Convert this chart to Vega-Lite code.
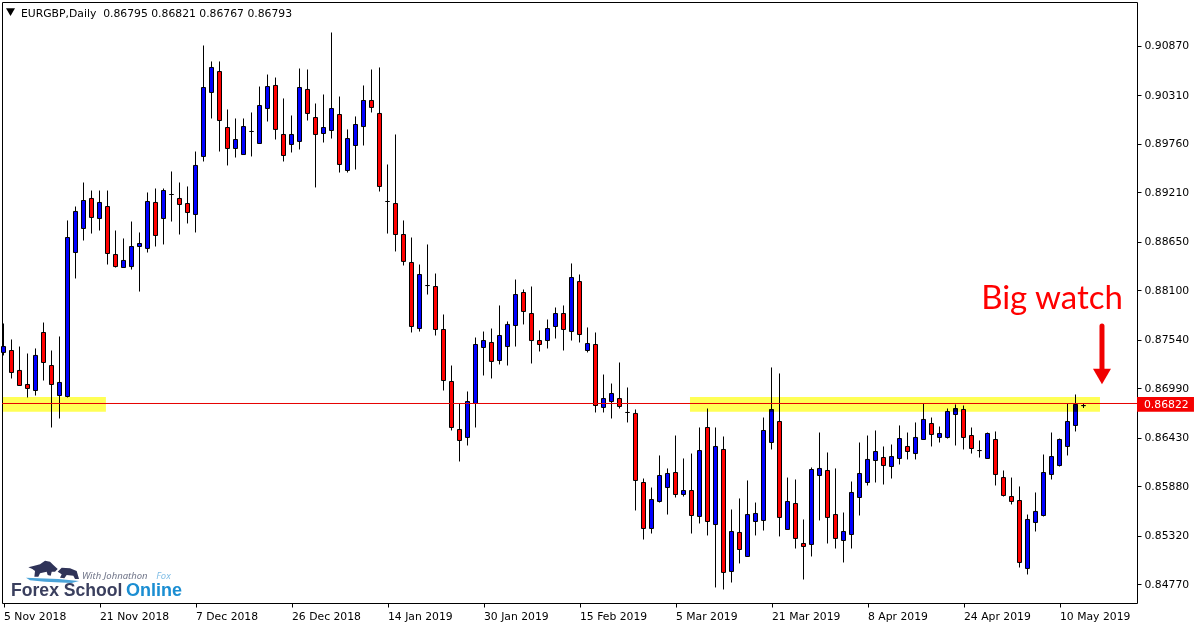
{
"$schema":"https://vega.github.io/schema/vega-lite/v6.json",
"width":1135,"height":601,
"autosize":{"type":"none"},
"padding":{"left":2,"top":2,"right":63,"bottom":24},
"background":"#ffffff",
"view":{"stroke":"#000000","strokeWidth":1,"fill":"#ffffff"},
"config":{"font":"DejaVu Sans"},
"resolve":{"axis":{"x":"independent","y":"independent"}},
"datasets":{"candles":[
{"i":0,"open":0.87396,"high":0.87724,"low":0.87362,"close":0.87463},
{"i":1,"open":0.87418,"high":0.87543,"low":0.87101,"close":0.87169},
{"i":2,"open":0.87192,"high":0.87463,"low":0.87022,"close":0.87022},
{"i":3,"open":0.87033,"high":0.87384,"low":0.86886,"close":0.86988},
{"i":4,"open":0.86965,"high":0.87441,"low":0.86908,"close":0.87362},
{"i":5,"open":0.87622,"high":0.87735,"low":0.87078,"close":0.87282},
{"i":6,"open":0.87248,"high":0.87418,"low":0.86546,"close":0.87033},
{"i":7,"open":0.86908,"high":0.87577,"low":0.86648,"close":0.87056},
{"i":8,"open":0.86897,"high":0.88891,"low":0.86886,"close":0.88698},
{"i":9,"open":0.88528,"high":0.89049,"low":0.88234,"close":0.88993},
{"i":10,"open":0.88800,"high":0.89321,"low":0.88664,"close":0.89117},
{"i":11,"open":0.89140,"high":0.89230,"low":0.88743,"close":0.88925},
{"i":12,"open":0.88913,"high":0.89230,"low":0.88777,"close":0.89095},
{"i":13,"open":0.89049,"high":0.89230,"low":0.88392,"close":0.88517},
{"i":14,"open":0.88505,"high":0.88777,"low":0.88358,"close":0.88369},
{"i":15,"open":0.88358,"high":0.88687,"low":0.88358,"close":0.88438},
{"i":16,"open":0.88369,"high":0.88879,"low":0.88335,"close":0.88596},
{"i":17,"open":0.88596,"high":0.88755,"low":0.88086,"close":0.88630},
{"i":18,"open":0.88574,"high":0.89208,"low":0.88528,"close":0.89106},
{"i":19,"open":0.89095,"high":0.89253,"low":0.88596,"close":0.88721},
{"i":20,"open":0.88913,"high":0.89253,"low":0.88619,"close":0.89230},
{"i":21,"open":0.89185,"high":0.89446,"low":0.88879,"close":0.89185},
{"i":22,"open":0.89140,"high":0.89321,"low":0.88732,"close":0.89072},
{"i":23,"open":0.89083,"high":0.89276,"low":0.88857,"close":0.88981},
{"i":24,"open":0.88959,"high":0.89672,"low":0.88755,"close":0.89514},
{"i":25,"open":0.89616,"high":0.90873,"low":0.89559,"close":0.90397},
{"i":26,"open":0.90341,"high":0.90692,"low":0.90046,"close":0.90624},
{"i":27,"open":0.90578,"high":0.90692,"low":0.89672,"close":0.90023},
{"i":28,"open":0.89944,"high":0.90148,"low":0.89514,"close":0.89706},
{"i":29,"open":0.89706,"high":0.90046,"low":0.89604,"close":0.89808},
{"i":30,"open":0.89638,"high":0.90046,"low":0.89638,"close":0.89955},
{"i":31,"open":0.89899,"high":0.90114,"low":0.89616,"close":0.89899},
{"i":32,"open":0.89763,"high":0.90408,"low":0.89763,"close":0.90193},
{"i":33,"open":0.90159,"high":0.90544,"low":0.90012,"close":0.90408},
{"i":34,"open":0.90420,"high":0.90510,"low":0.89808,"close":0.89922},
{"i":35,"open":0.89865,"high":0.90273,"low":0.89559,"close":0.89627},
{"i":36,"open":0.89752,"high":0.90080,"low":0.89661,"close":0.89865},
{"i":37,"open":0.89786,"high":0.90612,"low":0.89695,"close":0.90397},
{"i":38,"open":0.90375,"high":0.90601,"low":0.90023,"close":0.90103},
{"i":39,"open":0.90057,"high":0.90216,"low":0.89265,"close":0.89865},
{"i":40,"open":0.89876,"high":0.90318,"low":0.89774,"close":0.89944},
{"i":41,"open":0.89910,"high":0.91020,"low":0.89819,"close":0.90159},
{"i":42,"open":0.90091,"high":0.90295,"low":0.89434,"close":0.89525},
{"i":43,"open":0.89457,"high":0.89922,"low":0.89434,"close":0.89819},
{"i":44,"open":0.89740,"high":0.90069,"low":0.89468,"close":0.89978},
{"i":45,"open":0.89955,"high":0.90420,"low":0.89740,"close":0.90250},
{"i":46,"open":0.90250,"high":0.90601,"low":0.90114,"close":0.90171},
{"i":47,"open":0.90103,"high":0.90624,"low":0.89219,"close":0.89276},
{"i":48,"open":0.89106,"high":0.89525,"low":0.88743,"close":0.89106},
{"i":49,"open":0.89083,"high":0.89865,"low":0.88540,"close":0.88732},
{"i":50,"open":0.88732,"high":0.88891,"low":0.88381,"close":0.88427},
{"i":51,"open":0.88415,"high":0.88698,"low":0.87622,"close":0.87690},
{"i":52,"open":0.87667,"high":0.88392,"low":0.87633,"close":0.88279},
{"i":53,"open":0.88154,"high":0.88619,"low":0.88052,"close":0.88154},
{"i":54,"open":0.88143,"high":0.88290,"low":0.87588,"close":0.87656},
{"i":55,"open":0.87656,"high":0.87826,"low":0.86965,"close":0.87078},
{"i":56,"open":0.87067,"high":0.87248,"low":0.86512,"close":0.86546},
{"i":57,"open":0.86523,"high":0.86818,"low":0.86161,"close":0.86399},
{"i":58,"open":0.86433,"high":0.86954,"low":0.86342,"close":0.86840},
{"i":59,"open":0.86818,"high":0.87565,"low":0.86546,"close":0.87486},
{"i":60,"open":0.87452,"high":0.87633,"low":0.87135,"close":0.87531},
{"i":61,"open":0.87509,"high":0.87667,"low":0.87101,"close":0.87294},
{"i":62,"open":0.87305,"high":0.87928,"low":0.87260,"close":0.87588},
{"i":63,"open":0.87463,"high":0.87747,"low":0.87248,"close":0.87713},
{"i":64,"open":0.87701,"high":0.88222,"low":0.87463,"close":0.88052},
{"i":65,"open":0.88075,"high":0.88109,"low":0.87713,"close":0.87860},
{"i":66,"open":0.87837,"high":0.88143,"low":0.87271,"close":0.87531},
{"i":67,"open":0.87531,"high":0.87645,"low":0.87407,"close":0.87486},
{"i":68,"open":0.87531,"high":0.87769,"low":0.87441,"close":0.87667},
{"i":69,"open":0.87690,"high":0.87905,"low":0.87554,"close":0.87837},
{"i":70,"open":0.87837,"high":0.87928,"low":0.87418,"close":0.87656},
{"i":71,"open":0.87633,"high":0.88404,"low":0.87531,"close":0.88245},
{"i":72,"open":0.88199,"high":0.88279,"low":0.87509,"close":0.87599},
{"i":73,"open":0.87418,"high":0.87679,"low":0.87396,"close":0.87497},
{"i":74,"open":0.87486,"high":0.87622,"low":0.86716,"close":0.86795},
{"i":75,"open":0.86773,"high":0.87146,"low":0.86716,"close":0.86874},
{"i":76,"open":0.86840,"high":0.87044,"low":0.86648,"close":0.86931},
{"i":77,"open":0.86874,"high":0.87282,"low":0.86761,"close":0.86784},
{"i":78,"open":0.86716,"high":0.86999,"low":0.86603,"close":0.86716},
{"i":79,"open":0.86705,"high":0.86750,"low":0.85606,"close":0.85946},
{"i":80,"open":0.85923,"high":0.85968,"low":0.85277,"close":0.85402},
{"i":81,"open":0.85402,"high":0.85866,"low":0.85345,"close":0.85730},
{"i":82,"open":0.85708,"high":0.86229,"low":0.85696,"close":0.86002},
{"i":83,"open":0.85866,"high":0.86082,"low":0.85560,"close":0.86025},
{"i":84,"open":0.86036,"high":0.86455,"low":0.85753,"close":0.85787},
{"i":85,"open":0.85787,"high":0.86195,"low":0.85764,"close":0.85832},
{"i":86,"open":0.85832,"high":0.86251,"low":0.85345,"close":0.85549},
{"i":87,"open":0.85538,"high":0.86546,"low":0.85459,"close":0.86285},
{"i":88,"open":0.86546,"high":0.86761,"low":0.85323,"close":0.85481},
{"i":89,"open":0.85447,"high":0.86546,"low":0.84734,"close":0.86331},
{"i":90,"open":0.86297,"high":0.86444,"low":0.84711,"close":0.84904},
{"i":91,"open":0.84915,"high":0.85617,"low":0.84790,"close":0.85368},
{"i":92,"open":0.85357,"high":0.85742,"low":0.85006,"close":0.85164},
{"i":93,"open":0.85085,"high":0.85946,"low":0.85085,"close":0.85560},
{"i":94,"open":0.85481,"high":0.85696,"low":0.85323,"close":0.85572},
{"i":95,"open":0.85493,"high":0.86659,"low":0.85379,"close":0.86512},
{"i":96,"open":0.86376,"high":0.87226,"low":0.86297,"close":0.86750},
{"i":97,"open":0.86614,"high":0.87158,"low":0.85312,"close":0.85527},
{"i":98,"open":0.85391,"high":0.85979,"low":0.85391,"close":0.85708},
{"i":99,"open":0.85685,"high":0.85957,"low":0.85175,"close":0.85289},
{"i":100,"open":0.85232,"high":0.85504,"low":0.84824,"close":0.85198},
{"i":101,"open":0.85221,"high":0.86093,"low":0.85085,"close":0.86070},
{"i":102,"open":0.86002,"high":0.86489,"low":0.85493,"close":0.86082},
{"i":103,"open":0.86059,"high":0.86263,"low":0.85232,"close":0.85527},
{"i":104,"open":0.85560,"high":0.86082,"low":0.85175,"close":0.85289},
{"i":105,"open":0.85266,"high":0.85583,"low":0.85017,"close":0.85368},
{"i":106,"open":0.85334,"high":0.85934,"low":0.85175,"close":0.85810},
{"i":107,"open":0.85753,"high":0.86376,"low":0.85549,"close":0.86025},
{"i":108,"open":0.85923,"high":0.86455,"low":0.85889,"close":0.86184},
{"i":109,"open":0.86172,"high":0.86512,"low":0.85923,"close":0.86274},
{"i":110,"open":0.86206,"high":0.86331,"low":0.85900,"close":0.86115},
{"i":111,"open":0.86104,"high":0.86353,"low":0.85968,"close":0.86217},
{"i":112,"open":0.86195,"high":0.86569,"low":0.86127,"close":0.86421},
{"i":113,"open":0.86331,"high":0.86489,"low":0.86184,"close":0.86274},
{"i":114,"open":0.86251,"high":0.86603,"low":0.86184,"close":0.86433},
{"i":115,"open":0.86410,"high":0.86818,"low":0.86410,"close":0.86637},
{"i":116,"open":0.86591,"high":0.86659,"low":0.86331,"close":0.86467},
{"i":117,"open":0.86433,"high":0.86557,"low":0.86376,"close":0.86478},
{"i":118,"open":0.86433,"high":0.86761,"low":0.86421,"close":0.86727},
{"i":119,"open":0.86693,"high":0.86807,"low":0.86342,"close":0.86761},
{"i":120,"open":0.86750,"high":0.86795,"low":0.86297,"close":0.86433},
{"i":121,"open":0.86455,"high":0.86546,"low":0.86251,"close":0.86308},
{"i":122,"open":0.86285,"high":0.86399,"low":0.86206,"close":0.86285},
{"i":123,"open":0.86195,"high":0.86489,"low":0.86195,"close":0.86478},
{"i":124,"open":0.86410,"high":0.86501,"low":0.85889,"close":0.86014},
{"i":125,"open":0.85979,"high":0.86059,"low":0.85764,"close":0.85776},
{"i":126,"open":0.85764,"high":0.85979,"low":0.85674,"close":0.85708},
{"i":127,"open":0.85719,"high":0.85878,"low":0.84960,"close":0.85017},
{"i":128,"open":0.84949,"high":0.85560,"low":0.84881,"close":0.85504},
{"i":129,"open":0.85470,"high":0.85810,"low":0.85368,"close":0.85595},
{"i":130,"open":0.85549,"high":0.86240,"low":0.85538,"close":0.86036},
{"i":131,"open":0.86014,"high":0.86489,"low":0.85957,"close":0.86217},
{"i":132,"open":0.86115,"high":0.86421,"low":0.86104,"close":0.86410},
{"i":133,"open":0.86331,"high":0.86818,"low":0.86229,"close":0.86614},
{"i":134,"open":0.86569,"high":0.86920,"low":0.86501,"close":0.86807},
{"i":135,"open":0.86795,"high":0.86821,"low":0.86767,"close":0.86793}
]},
"layer":[
{"data":{"values":[{"i":0,"i2":141,"price":0.86891,"price2":0.86725}]},
 "mark":{"type":"rect","opacity":0},
 "encoding":{
  "x":{"field":"i","type":"quantitative","scale":{"domain":[-0.1875,141.6875],"nice":false,"zero":false,"padding":0},"title":null,
   "axis":{"values":[0,12,24,36,48,60,72,84,96,108,120,132],"labelExpr":"{0:'5 Nov 2018',12:'21 Nov 2018',24:'7 Dec 2018',36:'26 Dec 2018',48:'14 Jan 2019',60:'30 Jan 2019',72:'15 Feb 2019',84:'5 Mar 2019',96:'21 Mar 2019',108:'8 Apr 2019',120:'24 Apr 2019',132:'10 May 2019'}[datum.value]","labelAlign":"left","labelFontSize":10.8,"labelColor":"#000000","labelFont":"DejaVu Sans","labelPadding":3,"labelOffset":0,"labelFlush":false,"labelOverlap":false,"labelBound":false,"tickSize":4,"tickColor":"#000000","domain":false,"grid":false}},
  "x2":{"field":"i2"},
  "y":{"field":"price","type":"quantitative","scale":{"domain":[0.84558,0.913656],"nice":false,"zero":false},"title":null,
   "axis":{"orient":"right","values":[0.8477,0.8532,0.8588,0.8643,0.8699,0.8754,0.881,0.8865,0.8921,0.8976,0.9031,0.9087],"format":".5f","labelFontSize":10.8,"labelColor":"#000000","labelFont":"DejaVu Sans","labelPadding":3,"labelOverlap":false,"labelBound":false,"tickSize":4,"tickColor":"#000000","domain":false,"grid":false}},
  "y2":{"field":"price2"}}},
{"data":{"name":"candles"},
 "mark":{"type":"rule","color":"#000000","strokeWidth":1},
 "encoding":{
  "x":{"field":"i","type":"quantitative","scale":{"domain":[-0.1875,141.6875],"nice":false,"zero":false,"padding":0},"axis":null},
  "y":{"field":"low","type":"quantitative","scale":{"domain":[0.84558,0.913656],"nice":false,"zero":false},"axis":null},
  "y2":{"field":"high"}}},
{"data":{"name":"candles"},
 "mark":{"type":"bar","size":4,"stroke":"#000000","strokeWidth":1},
 "encoding":{
  "x":{"field":"i","type":"quantitative","scale":{"domain":[-0.1875,141.6875],"nice":false,"zero":false,"padding":0},"axis":null},
  "y":{"field":"open","type":"quantitative","scale":{"domain":[0.84558,0.913656],"nice":false,"zero":false},"axis":null},
  "y2":{"field":"close"},
  "color":{"condition":{"test":"datum.close > datum.open","value":"#0000ff"},"value":"#ff0000"}}},
{"data":{"values":[{"i":-0.1875,"i2":12.8,"price":0.86891,"price2":0.86725},{"i":85.81,"i2":137.06,"price":0.86891,"price2":0.86725}]},
 "mark":{"type":"rect","color":"#ffff55","blend":"multiply"},
 "encoding":{
  "x":{"field":"i","type":"quantitative","scale":{"domain":[-0.1875,141.6875],"nice":false,"zero":false,"padding":0},"axis":null},
  "x2":{"field":"i2"},
  "y":{"field":"price","type":"quantitative","scale":{"domain":[0.84558,0.913656],"nice":false,"zero":false},"axis":null},
  "y2":{"field":"price2"}}},
{"data":{"values":[{"price":0.868178}]},
 "mark":{"type":"rule","color":"#e60000","strokeWidth":1},
 "encoding":{
  "y":{"field":"price","type":"quantitative","scale":{"domain":[0.84558,0.913656],"nice":false,"zero":false},"axis":null}}},
{"data":{"values":[{"i":141.69,"i2":148.81,"price":0.86891,"price2":0.86723}]},
 "mark":{"type":"rect","color":"#f50000","clip":false},
 "encoding":{
  "x":{"field":"i","type":"quantitative","scale":{"domain":[-0.1875,141.6875],"nice":false,"zero":false,"padding":0},"axis":null},
  "x2":{"field":"i2"},
  "y":{"field":"price","type":"quantitative","scale":{"domain":[0.84558,0.913656],"nice":false,"zero":false},"axis":null},
  "y2":{"field":"price2"}}},
{"data":{"values":[{"i":142.56,"price":0.86767,"label":"0.86822"}]},
 "mark":{"type":"text","align":"left","baseline":"alphabetic","font":"DejaVu Sans","fontSize":10.8,"color":"#ffffff"},
 "encoding":{
  "x":{"field":"i","type":"quantitative","scale":{"domain":[-0.1875,141.6875],"nice":false,"zero":false,"padding":0},"axis":null},
  "y":{"field":"price","type":"quantitative","scale":{"domain":[0.84558,0.913656],"nice":false,"zero":false},"axis":null},
  "text":{"field":"label"}}},
{"data":{"values":[{"i":2.19,"price":0.91196,"label":"EURGBP,Daily\u00a0\u00a00.86795 0.86821 0.86767 0.86793"}]},
 "mark":{"type":"text","align":"left","baseline":"alphabetic","font":"DejaVu Sans","fontSize":10.8,"color":"#000000"},
 "encoding":{
  "x":{"field":"i","type":"quantitative","scale":{"domain":[-0.1875,141.6875],"nice":false,"zero":false,"padding":0},"axis":null},
  "y":{"field":"price","type":"quantitative","scale":{"domain":[0.84558,0.913656],"nice":false,"zero":false},"axis":null},
  "text":{"field":"label"}}},
{"data":{"values":[{"i":0.875,"price":0.91252}]},
 "mark":{"type":"point","shape":"triangle-down","size":81,"filled":true,"color":"#000000","opacity":1},
 "encoding":{
  "x":{"field":"i","type":"quantitative","scale":{"domain":[-0.1875,141.6875],"nice":false,"zero":false,"padding":0},"axis":null},
  "y":{"field":"price","type":"quantitative","scale":{"domain":[0.84558,0.913656],"nice":false,"zero":false},"axis":null}}},
{"data":{"values":[{"i":131.06,"price":0.87888,"label":"Big watch"}]},
 "mark":{"type":"text","align":"center","baseline":"alphabetic","font":"Lato","fontSize":33,"color":"#ff0000"},
 "encoding":{
  "x":{"field":"i","type":"quantitative","scale":{"domain":[-0.1875,141.6875],"nice":false,"zero":false,"padding":0},"axis":null},
  "y":{"field":"price","type":"quantitative","scale":{"domain":[0.84558,0.913656],"nice":false,"zero":false},"axis":null},
  "text":{"field":"label"}}},
{"data":{"values":[{"i":137.31,"price":0.87696,"price2":0.87197}]},
 "mark":{"type":"rule","color":"#f00000","strokeWidth":5,"strokeCap":"round"},
 "encoding":{
  "x":{"field":"i","type":"quantitative","scale":{"domain":[-0.1875,141.6875],"nice":false,"zero":false,"padding":0},"axis":null},
  "y":{"field":"price","type":"quantitative","scale":{"domain":[0.84558,0.913656],"nice":false,"zero":false},"axis":null},
  "y2":{"field":"price2"}}},
{"data":{"values":[{"i":137.31,"price":0.87124}]},
 "mark":{"type":"point","shape":"triangle-down","size":324,"filled":true,"color":"#f00000","opacity":1},
 "encoding":{
  "x":{"field":"i","type":"quantitative","scale":{"domain":[-0.1875,141.6875],"nice":false,"zero":false,"padding":0},"axis":null},
  "y":{"field":"price","type":"quantitative","scale":{"domain":[0.84558,0.913656],"nice":false,"zero":false},"axis":null}}},
{"data":{"values":[{"i":6.19,"price":0.84932}]},
 "mark":{"type":"point","size":2916,"filled":true,"color":"#4aa3d8","opacity":1,"shape":"M-1,.284L-.543,.309L.198,.333L.963,.407L.691,.481L-.296,.432L-.852,.383Z"},
 "encoding":{
  "x":{"field":"i","type":"quantitative","scale":{"domain":[-0.1875,141.6875],"nice":false,"zero":false,"padding":0},"axis":null},
  "y":{"field":"price","type":"quantitative","scale":{"domain":[0.84558,0.913656],"nice":false,"zero":false},"axis":null}}},
{"data":{"values":[{"i":6.19,"price":0.84932}]},
 "mark":{"type":"point","size":2916,"filled":true,"color":"#2f3358","opacity":1,"shape":"M-.914,-.099L-.691,-.16L-.481,-.21L-.296,-.346L-.111,-.309L.012,-.185L.173,-.037L.074,.062L-.049,.062L-.086,.21L-.198,.185L-.235,.062L-.481,.123L-.543,.247L-.691,.247L-.667,.037L-.765,-.037ZM.173,.062L.321,-.086L.63,-.062L.877,.037L.963,.333L.815,.333L.753,.21L.506,.185L.42,.309L.259,.284L.321,.16Z"},
 "encoding":{
  "x":{"field":"i","type":"quantitative","scale":{"domain":[-0.1875,141.6875],"nice":false,"zero":false,"padding":0},"axis":null},
  "y":{"field":"price","type":"quantitative","scale":{"domain":[0.84558,0.913656],"nice":false,"zero":false},"axis":null}}},
{"data":{"values":[{"i":0.94,"price":0.84632,"label":"Forex School"}]},
 "mark":{"type":"text","align":"left","baseline":"alphabetic","font":"Liberation Sans","fontWeight":"bold","fontSize":17.6,"color":"#3a3f5e"},
 "encoding":{
  "x":{"field":"i","type":"quantitative","scale":{"domain":[-0.1875,141.6875],"nice":false,"zero":false,"padding":0},"axis":null},
  "y":{"field":"price","type":"quantitative","scale":{"domain":[0.84558,0.913656],"nice":false,"zero":false},"axis":null},
  "text":{"field":"label"}}},
{"data":{"values":[{"i":15.31,"price":0.84632,"label":"Online"}]},
 "mark":{"type":"text","align":"left","baseline":"alphabetic","font":"Liberation Sans","fontWeight":"bold","fontSize":18,"color":"#1b8ed2"},
 "encoding":{
  "x":{"field":"i","type":"quantitative","scale":{"domain":[-0.1875,141.6875],"nice":false,"zero":false,"padding":0},"axis":null},
  "y":{"field":"price","type":"quantitative","scale":{"domain":[0.84558,0.913656],"nice":false,"zero":false},"axis":null},
  "text":{"field":"label"}}},
{"data":{"values":[{"i":9.81,"price":0.8483,"label":"With Johnathon"}]},
 "mark":{"type":"text","align":"left","baseline":"alphabetic","font":"Noto Sans","fontStyle":"italic","fontSize":9.5,"color":"#6f7488"},
 "encoding":{
  "x":{"field":"i","type":"quantitative","scale":{"domain":[-0.1875,141.6875],"nice":false,"zero":false,"padding":0},"axis":null},
  "y":{"field":"price","type":"quantitative","scale":{"domain":[0.84558,0.913656],"nice":false,"zero":false},"axis":null},
  "text":{"field":"label"}}},
{"data":{"values":[{"i":19.1,"price":0.8483,"label":"Fox"}]},
 "mark":{"type":"text","align":"left","baseline":"alphabetic","font":"Noto Sans","fontStyle":"italic","fontSize":9.5,"color":"#7fbde6"},
 "encoding":{
  "x":{"field":"i","type":"quantitative","scale":{"domain":[-0.1875,141.6875],"nice":false,"zero":false,"padding":0},"axis":null},
  "y":{"field":"price","type":"quantitative","scale":{"domain":[0.84558,0.913656],"nice":false,"zero":false},"axis":null},
  "text":{"field":"label"}}}
]
}
